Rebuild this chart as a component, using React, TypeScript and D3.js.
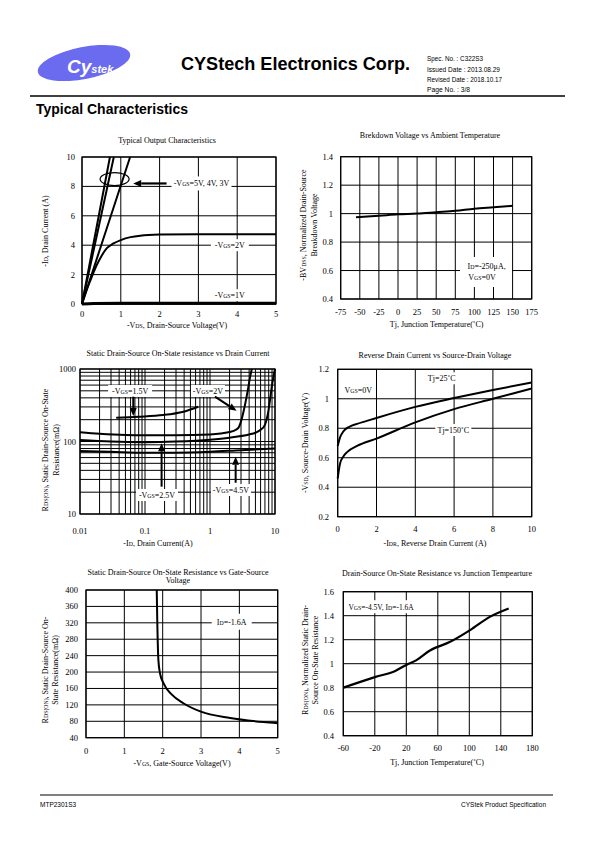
import React from 'react';
import * as d3 from 'd3';

type P = [number, number];

// ---------- Chart 1: Typical Output Characteristics ----------
const outXTicks = [0, 1, 2, 3, 4, 5];
const outYTicks = [0, 2, 4, 6, 8, 10];
const outVgs5: P[] = [[0, 0], [0.36, 5], [0.72, 10]];
const outVgs4: P[] = [[0, 0], [0.41, 5], [0.82, 10]];
const outVgs3: P[] = [[0, 0], [0.62, 5], [1.24, 10]];
const outVgs2: P[] = [[0, 0], [0.1, 0.8], [0.2, 1.5], [0.38, 2.65], [0.5, 3.25], [0.64, 3.8], [0.8, 4.1], [1, 4.35], [1.25, 4.55], [1.5, 4.65], [2, 4.72], [3, 4.75], [5, 4.75]];
const outVgs1: P[] = [[0, 0], [0.3, 0.03], [1, 0.05], [5, 0.05]];

// ---------- Chart 2: Breakdown Voltage vs Ambient Temperature ----------
const bvXTicks = [-75, -50, -25, 0, 25, 50, 75, 100, 125, 150, 175];
const bvYTicks = [0.4, 0.6, 0.8, 1, 1.2, 1.4];
const bvTemp = [-55, -25, 0, 25, 50, 75, 100, 125, 150];
const bvNorm = [0.975, 0.985, 0.995, 1.0, 1.01, 1.02, 1.035, 1.045, 1.055];

// ---------- Chart 3: Rds(on) vs Drain Current (log-log) ----------
const rdsIdXTicks = [0.01, 0.1, 1, 10];
const rdsIdYTicks = [10, 100, 1000];
const rdsVgs15: P[] = [[0.036, 213], [0.08, 220], [0.19, 232], [0.39, 258], [0.66, 302]];
const rdsVgs2: P[] = [[0.01, 134], [0.02, 128], [0.05, 123], [0.1, 122], [0.3, 122], [1, 125], [2, 135], [2.5, 145], [2.8, 160], [3.1, 210], [3.45, 318], [3.8, 500], [4.1, 743], [4.4, 1000]];
const rdsVgs25: P[] = [[0.01, 105], [0.03, 100], [0.1, 98], [0.3, 100], [1, 106], [2, 113], [4, 125], [5, 132], [6, 145], [7, 170], [7.7, 230], [8.4, 380], [8.9, 560], [9.5, 800], [10, 1000]];
const rdsVgs45: P[] = [[0.01, 74], [0.03, 72], [0.1, 70], [0.3, 70], [1, 72], [3, 76], [10, 80]];

// ---------- Chart 4: Reverse Drain Current vs Source-Drain Voltage ----------
const vsdXTicks = [0, 2, 4, 6, 8, 10];
const vsdYTicks = [0.2, 0.4, 0.6, 0.8, 1, 1.2];
const vsd25: P[] = [[0, 0.68], [0.1, 0.73], [0.3, 0.78], [0.6, 0.81], [1, 0.83], [1.5, 0.85], [2, 0.87], [4, 0.945], [6, 1.005], [8, 1.06], [10, 1.11]];
const vsd150: P[] = [[0, 0.46], [0.12, 0.56], [0.3, 0.61], [0.5, 0.64], [1, 0.68], [2, 0.73], [4, 0.84], [6, 0.93], [8, 1.0], [10, 1.07]];

// ---------- Chart 5: Rds(on) vs Gate-Source Voltage ----------
const rvXTicks = [0, 1, 2, 3, 4, 5];
const rvYTicks = [40, 80, 120, 160, 200, 240, 280, 320, 360, 400];
const rvVgs = [1.845, 1.86, 1.888, 1.93, 2.02, 2.24, 2.54, 2.98, 3.76, 4.63, 5.0];
const rvRds = [400, 320, 229, 197, 173, 145, 124, 104, 88, 78, 75];

// ---------- Chart 6: Rds(on) vs Junction Temperature ----------
const rtXTicks = [-60, -20, 20, 60, 100, 140, 180];
const rtYTicks = [0.4, 0.6, 0.8, 1, 1.2, 1.4, 1.6];
const rtTemp = [-60, -19, 6, 20, 33, 50, 75, 101, 126, 150];
const rtNorm = [0.8, 0.89, 0.94, 0.99, 1.03, 1.11, 1.18, 1.28, 1.39, 1.46];

const SERIF = "'Liberation Serif', 'Times New Roman', serif";
const SANS = "'Liberation Sans', Arial, sans-serif";
const FS = 8;
const TFS = 8.5;
const SUB = 5.8;

function rich(s: string) {
  const parts = s.split(/(_\{[^}]*\})/).filter((p) => p.length > 0);
  return parts.map((p, i) =>
    p.startsWith('_{') ? (
      <tspan key={i} fontSize={SUB}>{p.slice(2, -1)}</tspan>
    ) : (
      <tspan key={i}>{p}</tspan>
    )
  );
}

function Grid({ x, y, xGrid, yGrid }: any) {
  const [x0, x1] = x.range();
  const [y0, y1] = y.range();
  return (
    <g stroke="#000" strokeWidth={1}>
      {xGrid.map((v: number, i: number) => (
        <line key={'gx' + i} x1={x(v)} x2={x(v)} y1={y0} y2={y1} />
      ))}
      {yGrid.map((v: number, i: number) => (
        <line key={'gy' + i} x1={x0} x2={x1} y1={y(v)} y2={y(v)} />
      ))}
    </g>
  );
}

function Frame({ x, y, xTicks, yTicks, xFmt, yFmt, xTickY, yTickX }: any) {
  const [x0, x1] = x.range();
  const [y0, y1] = y.range();
  const fx = xFmt || ((v: number) => String(v));
  const fy = yFmt || ((v: number) => String(v));
  return (
    <g fontFamily={SERIF} fontSize={TFS} fill="#000">
      <rect x={x0} y={y1} width={x1 - x0} height={y0 - y1} fill="none" stroke="#000" strokeWidth={1.2} />
      {xTicks.map((v: number, i: number) => (
        <text key={'tx' + i} x={x(v)} y={xTickY} textAnchor="middle">{fx(v)}</text>
      ))}
      {yTicks.map((v: number, i: number) => (
        <text key={'ty' + i} x={yTickX} y={y(v) + 3} textAnchor="end">{fy(v)}</text>
      ))}
    </g>
  );
}

function Curve({ data, x, y, w = 2, curve = d3.curveMonotoneX }: any) {
  const gen = d3
    .line<P>()
    .x((d) => x(d[0]))
    .y((d) => y(d[1]))
    .curve(curve);
  return <path d={gen(data) || ''} fill="none" stroke="#000" strokeWidth={w} strokeLinejoin="round" />;
}

function Label({ cx, cy, text, w, h = 12, box = true, fs = FS }: any) {
  return (
    <g>
      {box && <rect x={cx - w / 2} y={cy - h / 2} width={w} height={h} fill="#fff" />}
      <text x={cx} y={cy + 3} textAnchor="middle" fontFamily={SERIF} fontSize={fs} fill="#000">{rich(text)}</text>
    </g>
  );
}

function Arrow({ x1, y1, x2, y2, w = 2 }: any) {
  const ang = Math.atan2(y2 - y1, x2 - x1);
  const L = 8, H = 3.5;
  const bx = x2 - L * Math.cos(ang), by = y2 - L * Math.sin(ang);
  const px = -Math.sin(ang) * H, py = Math.cos(ang) * H;
  return (
    <g>
      <line x1={x1} y1={y1} x2={bx} y2={by} stroke="#000" strokeWidth={w} />
      <path d={`M${x2},${y2}L${bx + px},${by + py}L${bx - px},${by - py}Z`} fill="#000" />
    </g>
  );
}

function Title({ lines, cx, y, lh = 9 }: any) {
  return (
    <text fontFamily={SERIF} fontSize={FS} textAnchor="middle" fill="#000">
      {lines.map((l: string, i: number) => (
        <tspan key={i} x={cx} y={y + i * lh}>{rich(l)}</tspan>
      ))}
    </text>
  );
}

function YLabel({ lines, bx, cy, lh = 10.5 }: any) {
  return (
    <g>
      {lines.map((l: string, i: number) => (
        <text key={i} transform={`translate(${bx + i * lh},${cy}) rotate(-90)`} textAnchor="middle" fontFamily={SERIF} fontSize={FS} fill="#000">
          {rich(l)}
        </text>
      ))}
    </g>
  );
}

function Chart1() {
  const x = d3.scaleLinear().domain([0, 5]).range([82, 276]);
  const y = d3.scaleLinear().domain([0, 10]).range([304, 157]);
  return (
    <g>
      <Title lines={['Typical Output Characteristics']} cx={167} y={143} />
      <Grid x={x} y={y} xGrid={outXTicks} yGrid={outYTicks} />
      <Label cx={x(3.08)} cy={y(8.2)} text="-V_{GS}=5V, 4V, 3V" w={60} h={14} />
      <Label cx={x(3.81)} cy={y(4.0)} text="-V_{GS}=2V" w={38} />
      <Label cx={x(3.81)} cy={y(0.6)} text="-V_{GS}=1V" w={38} />
      <Curve data={outVgs2} x={x} y={y} />
      <Curve data={outVgs5} x={x} y={y} curve={d3.curveLinear} />
      <Curve data={outVgs4} x={x} y={y} curve={d3.curveLinear} />
      <Curve data={outVgs3} x={x} y={y} curve={d3.curveLinear} />
      <Curve data={outVgs1} x={x} y={y} w={3} />
      <ellipse cx={x(0.84)} cy={y(8.5)} rx={14.5} ry={6.5} fill="none" stroke="#000" strokeWidth={1.2} />
      <Arrow x1={x(2.18)} y1={y(8.2)} x2={x(1.32)} y2={y(8.2)} w={2.2} />
      <Frame x={x} y={y} xTicks={outXTicks} yTicks={outYTicks} xTickY={317} yTickX={75} />
      <text x={177} y={327.5} textAnchor="middle" fontFamily={SERIF} fontSize={FS}>{rich('-V_{DS}, Drain-Source Voltage(V)')}</text>
      <YLabel lines={['-I_{D}, Drain Current (A)']} bx={48} cy={231} />
    </g>
  );
}

function Chart2() {
  const x = d3.scaleLinear().domain([-75, 175]).range([340.7, 531.7]);
  const y = d3.scaleLinear().domain([0.4, 1.4]).range([299, 156.7]);
  const line: P[] = bvTemp.map((t, i) => [t, bvNorm[i]]);
  return (
    <g>
      <Title lines={['Brekdown Voltage vs Ambient Temperature']} cx={430} y={138} />
      <Grid x={x} y={y} xGrid={bvXTicks} yGrid={bvYTicks} />
      <rect x={460} y={257} width={52} height={30} fill="#fff" />
      <Label cx={x(116)} cy={y(0.634)} text="I_{D}=-250μA," w={50} box={false} />
      <Label cx={x(110)} cy={y(0.553)} text="V_{GS}=0V" w={40} box={false} />
      <Curve data={line} x={x} y={y} />
      <Frame x={x} y={y} xTicks={bvXTicks} yTicks={bvYTicks} xTickY={315} yTickX={333} />
      <text x={436.7} y={327} textAnchor="middle" fontFamily={SERIF} fontSize={FS}>Tj, Junction Temperature(˚C)</text>
      <YLabel lines={['-BV_{DSS}, Normalized Drain-Source', 'Breakdown Voltage']} bx={306} cy={225} />
    </g>
  );
}

function Chart3() {
  const x = d3.scaleLog().domain([0.01, 10]).range([80, 275]);
  const y = d3.scaleLog().domain([10, 1000]).range([514, 369]);
  const xg = x.ticks();
  const yg = y.ticks();
  return (
    <g>
      <Title lines={['Static Drain-Source On-State resistance vs Drain Current']} cx={178} y={356} />
      <Grid x={x} y={y} xGrid={xg} yGrid={yg} />
      <Label cx={x(0.059)} cy={y(497)} text="-V_{GS}=1.5V" w={44} />
      <Label cx={x(0.93)} cy={y(497)} text="-V_{GS}=2V" w={34} />
      <Label cx={x(0.153)} cy={y(18.3)} text="-V_{GS}=2.5V" w={42} />
      <Label cx={x(2.1)} cy={y(21.4)} text="-V_{GS}=4.5V" w={40} />
      <Curve data={rdsVgs15} x={x} y={y} />
      <Curve data={rdsVgs2} x={x} y={y} />
      <Curve data={rdsVgs25} x={x} y={y} />
      <Curve data={rdsVgs45} x={x} y={y} />
      <Arrow x1={x(0.066)} y1={y(415)} x2={x(0.066)} y2={y(225)} />
      <Arrow x1={x(1.19)} y1={y(415)} x2={x(2.56)} y2={y(266)} />
      <Arrow x1={x(0.18)} y1={y(23.8)} x2={x(0.18)} y2={y(94.4)} />
      <Arrow x1={x(2.48)} y1={y(27)} x2={x(2.48)} y2={y(61.7)} />
      <Frame x={x} y={y} xTicks={rdsIdXTicks} yTicks={rdsIdYTicks} xTickY={533.5} yTickX={76} />
      <text x={158} y={546} textAnchor="middle" fontFamily={SERIF} fontSize={FS}>{rich('-I_{D}, Drain Current(A)')}</text>
      <YLabel lines={['R_{DS(ON)}, Static Drain-Source On-State', 'Resistance(mΩ)']} bx={48} cy={450} lh={11} />
    </g>
  );
}

function Chart4() {
  const x = d3.scaleLinear().domain([0, 10]).range([337.7, 531.7]);
  const y = d3.scaleLinear().domain([0.2, 1.2]).range([516.7, 369.3]);
  return (
    <g>
      <Title lines={['Reverse Drain Current vs Source-Drain Voltage']} cx={435} y={358} />
      <Grid x={x} y={y} xGrid={vsdXTicks} yGrid={vsdYTicks} />
      <Label cx={x(5.36)} cy={y(1.139)} text="Tj=25˚C" w={32} />
      <Label cx={x(1.06)} cy={y(1.06)} text="V_{GS}=0V" w={30} />
      <Label cx={x(5.96)} cy={y(0.788)} text="Tj=150˚C" w={36} />
      <Curve data={vsd25} x={x} y={y} />
      <Curve data={vsd150} x={x} y={y} />
      <Frame x={x} y={y} xTicks={vsdXTicks} yTicks={vsdYTicks} xTickY={532.3} yTickX={329} />
      <text x={435} y={546} textAnchor="middle" fontFamily={SERIF} fontSize={FS}>{rich('-I_{DR}, Reverse Drain Current (A)')}</text>
      <YLabel lines={['-V_{SD}, Source-Drain Voltage(V)']} bx={308} cy={443} />
    </g>
  );
}

function Chart5() {
  const x = d3.scaleLinear().domain([0, 5]).range([86, 277.7]);
  const y = d3.scaleLinear().domain([40, 400]).range([737.7, 590]);
  const line: P[] = rvVgs.map((v, i) => [v, rvRds[i]]);
  return (
    <g>
      <Title lines={['Static Drain-Source On-State Resistance vs Gate-Source', 'Voltage']} cx={178} y={574.5} lh={8.5} />
      <Grid x={x} y={y} xGrid={rvXTicks} yGrid={rvYTicks} />
      <Label cx={x(3.8)} cy={y(322.7)} text="I_{D}=-1.6A" w={40} h={16} />
      <Curve data={line} x={x} y={y} />
      <Frame x={x} y={y} xTicks={rvXTicks} yTicks={rvYTicks} xTickY={754} yTickX={78} />
      <text x={182} y={766} textAnchor="middle" fontFamily={SERIF} fontSize={FS}>{rich('-V_{GS}, Gate-Source Voltage(V)')}</text>
      <YLabel lines={['R_{DS(ON)}, Static Drain-Source On-', 'State Resistance(mΩ)']} bx={48} cy={670} lh={10} />
    </g>
  );
}

function Chart6() {
  const x = d3.scaleLinear().domain([-60, 180]).range([343.3, 532.3]);
  const y = d3.scaleLinear().domain([0.4, 1.6]).range([735.7, 591.7]);
  const line: P[] = rtTemp.map((t, i) => [t, rtNorm[i]]);
  return (
    <g>
      <Title lines={['Drain-Source On-State Resistance vs Junction Tempearture']} cx={437} y={576} />
      <Grid x={x} y={y} xGrid={rtXTicks} yGrid={rtYTicks} />
      <Label cx={x(-12)} cy={y(1.475)} text="V_{GS}=-4.5V, I_{D}=-1.6A" w={64} h={13} fs={7.5} />
      <Curve data={line} x={x} y={y} w={2.2} />
      <Frame x={x} y={y} xTicks={rtXTicks} yTicks={rtYTicks} xTickY={751} yTickX={334} />
      <text x={437} y={764.5} textAnchor="middle" fontFamily={SERIF} fontSize={FS}>Tj, Junction Temperature(˚C)</text>
      <YLabel lines={['R_{DS(ON)}, Normalized Static Drain-', 'Source On-State Resistance']} bx={308} cy={660} lh={10} />
    </g>
  );
}

function Header() {
  return (
    <g>
      <ellipse cx={84} cy={63} rx={47} ry={16} fill="#6b6bef" transform="rotate(-11 84 63)" />
      <text x={67} y={73} fontFamily={SANS} fontWeight="bold" fontStyle="italic" fill="#fff">
        <tspan fontSize={19}>Cy</tspan>
        <tspan fontSize={11}>stek</tspan>
      </text>
      <text x={181} y={70} fontFamily={SANS} fontWeight="bold" fontSize={17.5} textLength={229} lengthAdjust="spacingAndGlyphs">CYStech Electronics Corp.</text>
      <g fontFamily={SANS} fontSize={7}>
        <text x={427} y={61} textLength={56} lengthAdjust="spacingAndGlyphs">Spec. No. : C322S3</text>
        <text x={427} y={71.5} textLength={73} lengthAdjust="spacingAndGlyphs">Issued Date : 2013.08.29</text>
        <text x={427} y={82} textLength={75} lengthAdjust="spacingAndGlyphs">Revised Date : 2018.10.17</text>
        <text x={427} y={92} textLength={43} lengthAdjust="spacingAndGlyphs">Page No. : 3/8</text>
      </g>
      <line x1={30} x2={565} y1={96} y2={96} stroke="#000" strokeWidth={1.5} />
      <text x={36} y={114} fontFamily={SANS} fontWeight="bold" fontSize={14} textLength={152} lengthAdjust="spacingAndGlyphs">Typical Characteristics</text>
    </g>
  );
}

function Footer() {
  return (
    <g fontFamily={SANS} fontSize={6.5}>
      <line x1={40} x2={553} y1={795} y2={795} stroke="#000" strokeWidth={1} />
      <text x={40} y={807}>MTP2301S3</text>
      <text x={546} y={807} textAnchor="end">CYStek Product Specification</text>
    </g>
  );
}

export default function App() {
  return (
    <svg width={595} height={842} style={{ position: 'absolute', left: 0, top: 0, background: '#fff' }}>
      <rect width={595} height={842} fill="#fff" />
      <Header />
      <Chart1 />
      <Chart2 />
      <Chart3 />
      <Chart4 />
      <Chart5 />
      <Chart6 />
      <Footer />
    </svg>
  );
}
